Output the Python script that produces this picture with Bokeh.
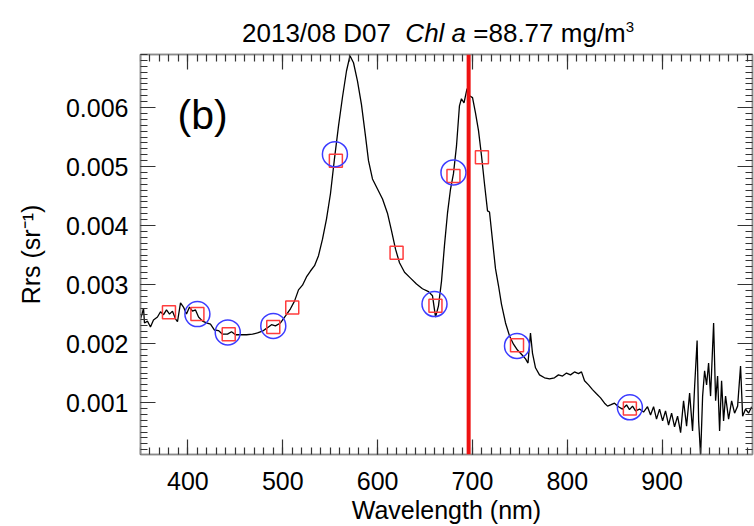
from bokeh.plotting import figure
from bokeh.models import (Range1d, FixedTicker, PrintfTickFormatter, LinearAxis,
                          CustomJSTickFormatter, Span, Label, Div)
from bokeh.layouts import column
from bokeh.embed import file_html
from bokeh.resources import INLINE

# ---- data ----
wavelength = [350, 351.6, 353.2, 354.2, 357.4, 360.5, 363.7, 367.9, 371.1, 374.3,
              377.4, 380.6, 383.7, 386.9, 389.0, 392.2, 395.3, 398.5, 401.7, 404.8,
              408.0, 411.2, 415.4, 419.6, 423.8, 428.0, 432.2, 436.5, 441.7, 446.0,
              450.2, 455.4, 461.8, 468.1, 473.4, 478.6, 483.9, 488.1, 492.3, 497.6,
              502.9, 508.1, 512.4, 516.6, 520.8, 525.0, 529.2, 533.5, 537.7, 541.9,
              546.1, 550.3, 554.5, 558.8, 563.0, 567.2, 570.9, 574.6, 578.8, 583.0,
              587.2, 590.4, 594.6, 599.9, 605.2, 610.4, 614.7, 618.9, 623.1, 628.4,
              634.7, 641.0, 647.3, 653.7, 657.9, 661.1, 664.2, 667.4, 670.5, 673.7,
              676.9, 680.0, 683.2, 686.3, 688.4, 691.1, 694.3, 696.9, 700.1, 703.2,
              706.4, 709.6, 712.7, 715.9, 718.0, 721.2, 724.3, 727.5, 730.6, 734.9,
              739.1, 743.3, 747.5, 751.7, 756.0, 758.6, 761.2, 763.3, 766.5, 770.7,
              776.0, 781.3, 786.5, 790.7, 795.0, 799.2, 803.4, 807.6, 811.8, 815.0,
              818.2, 822.4, 826.6, 830.8, 835.1, 839.3, 842.5, 845.6, 849.8, 854.0,
              858.2, 862.5, 865.6, 868.8, 872.0, 876.2, 880.4, 884.6, 887.8, 891.0,
              894.1, 897.3, 900.5, 903.6, 906.8, 910.0, 913.1, 916.3, 919.5, 922.6,
              925.8, 929.0, 932.1, 934.3, 936.9, 938.5, 940.6, 942.7, 944.8, 946.9,
              949.0, 951.1, 954.3, 956.4, 958.5, 960.6, 962.7, 964.8, 966.9, 970.1,
              973.3, 976.4, 979.6, 982.7, 984.9, 988.0, 991.2, 994.4]
rrs = [0.00242, 0.00250, 0.00260, 0.00235, 0.00238, 0.00228, 0.00240, 0.00245, 0.00254, 0.00249,
       0.00257, 0.00250, 0.00255, 0.00242, 0.00237, 0.00269, 0.00262, 0.00250, 0.00262, 0.00255,
       0.00257, 0.00245, 0.00238, 0.00235, 0.00233, 0.00223, 0.00222, 0.00216, 0.00216, 0.00220,
       0.00215, 0.00215, 0.00215, 0.00216, 0.00218, 0.00221, 0.00227, 0.00232, 0.00230, 0.00235,
       0.00247, 0.00259, 0.00272, 0.00291, 0.00299, 0.00313, 0.00323, 0.00332, 0.00349, 0.00377,
       0.00411, 0.00454, 0.00513, 0.00569, 0.00618, 0.00662, 0.00688, 0.00676, 0.00645, 0.00605,
       0.00552, 0.00510, 0.00479, 0.00462, 0.00445, 0.00421, 0.00391, 0.00360, 0.00337, 0.00321,
       0.00311, 0.00301, 0.00293, 0.00288, 0.00281, 0.00245, 0.00264, 0.00306, 0.00366, 0.00421,
       0.00462, 0.00488, 0.00535, 0.00603, 0.00615, 0.00608, 0.00632, 0.00620, 0.00617, 0.00591,
       0.00561, 0.00518, 0.00471, 0.00425, 0.00423, 0.00374, 0.00327, 0.00298, 0.00267, 0.00235,
       0.00213, 0.00199, 0.00189, 0.00182, 0.00174, 0.00167, 0.00218, 0.00184, 0.00159, 0.00147,
       0.00142, 0.00140, 0.00142, 0.00147, 0.00145, 0.00150, 0.00147, 0.00152, 0.00149, 0.00152,
       0.00137, 0.00130, 0.00122, 0.00115, 0.00108, 0.00099, 0.00094, 0.00096, 0.00099, 0.00093,
       0.00089, 0.00096, 0.00088, 0.00094, 0.00086, 0.00089, 0.00084, 0.00093, 0.00079, 0.00093,
       0.00072, 0.00089, 0.00069, 0.00086, 0.00062, 0.00082, 0.00059, 0.00077, 0.00049, 0.00103,
       0.00060, 0.00116, 0.00052, 0.00128, 0.00205, 0.00069, 0.00010, 0.00111, 0.00154, 0.00130,
       0.00167, 0.00111, 0.00235, 0.00103, 0.00145, 0.00052, 0.00137, 0.00069, 0.00111, 0.00072,
       0.00103, 0.00082, 0.00094, 0.00162, 0.00077, 0.00089, 0.00082, 0.00093]

circle_wl = [410, 442, 490, 555, 660, 680, 747, 866]
circle_rrs = [0.00250, 0.00219, 0.00230, 0.00521, 0.00267, 0.00490, 0.00196, 0.00092]

square_wl = [380, 410, 443, 490, 510, 556, 620, 661, 680, 710, 747, 866]
square_rrs = [0.00253, 0.00250, 0.00216, 0.00228, 0.00261, 0.00510, 0.00354, 0.00264,
              0.00484, 0.00516, 0.00197, 0.00090]

red_line_wl = 696

x_major = [400, 500, 600, 700, 800, 900]
x_minor = list(range(350, 1000, 10))
y_major = [0.001, 0.002, 0.003, 0.004, 0.005, 0.006]
y_minor = [i / 10000 for i in range(1, 70)]

title_part1 = "2013/08 D07"
title_part2 = "Chl a"
title_part3 = "=88.77 mg/m"
title_sup = "3"
panel_tag = "(b)"

# ---- layout ----
X0, X1 = 350, 995.3
Y0, Y1 = 0.00012, 0.0069
W = 754
TITLE_H = 48
H = 526 - TITLE_H
BL, BR, BT, BB = 140, 2, 6, 72
FW, FH = W - BL - BR, H - BT - BB

def px_x(px):
    return X0 + (px - BL) / FW * (X1 - X0)

def px_y(py):  # py measured in the figure's own canvas
    return Y1 - (py - BT) / FH * (Y1 - Y0)

FONT = "Liberation Sans"

p = figure(width=W, height=H, output_backend="svg", toolbar_location=None,
           x_range=Range1d(X0, X1), y_range=Range1d(Y0, Y1),
           min_border_left=BL, min_border_right=BR, min_border_top=BT,
           min_border_bottom=BB, background_fill_color="white",
           border_fill_color="white", margin=0)
p.grid.visible = False
p.outline_line_color = "#8a8a8a"
p.outline_line_width = 1.5

xt = FixedTicker(ticks=x_major, minor_ticks=x_minor)
yt = FixedTicker(ticks=y_major, minor_ticks=y_minor)

def style_axis(ax, ticker):
    ax.ticker = ticker
    ax.axis_line_color = "#8a8a8a"
    ax.axis_line_width = 1.5
    ax.major_tick_in = 15
    ax.major_tick_out = 0
    ax.minor_tick_in = 7
    ax.minor_tick_out = 0
    ax.major_tick_line_color = "#333333"
    ax.minor_tick_line_color = "#333333"
    ax.major_tick_line_width = 1.2
    ax.minor_tick_line_width = 1.2
    ax.major_label_text_font = FONT
    ax.major_label_text_font_size = "25px"
    ax.major_label_text_color = "black"
    ax.axis_label_text_font = FONT
    ax.axis_label_text_font_size = "25px"
    ax.axis_label_text_font_style = "normal"
    ax.axis_label_text_color = "black"

xa = p.xaxis[0]
style_axis(xa, xt)
xa.axis_label = "Wavelength (nm)"
xa.major_label_standoff = 17
xa.axis_label_standoff = 3

ya = p.yaxis[0]
style_axis(ya, yt)
ya.axis_label = "Rrs (sr\u207b\u00b9)"
ya.formatter = PrintfTickFormatter(format="%.3f")
ya.major_label_standoff = 12
ya.axis_label_standoff = 18

blank = CustomJSTickFormatter(code="return ''")
top = LinearAxis(formatter=blank)
style_axis(top, xt)
top.major_label_standoff = 0
right = LinearAxis(formatter=blank)
style_axis(right, yt)
right.major_label_standoff = 0
p.add_layout(top, "above")
p.add_layout(right, "right")

# ---- marks ----
p.line(wavelength, rrs, line_color="black", line_width=1.3)
p.add_layout(Span(location=red_line_wl, dimension="height",
                  line_color="#ee1111", line_width=4))
p.scatter(square_wl, square_rrs, marker="square", size=13, fill_color=None,
          line_color="#ff3c3c", line_width=1.5)
p.scatter(circle_wl, circle_rrs, marker="circle", size=25, fill_color=None,
          line_color="#3c3cff", line_width=1.5)

p.add_layout(Label(x=px_x(177), y=px_y(114 - TITLE_H), text=panel_tag, text_font=FONT,
                   text_font_size="41px", text_color="black",
                   text_baseline="alphabetic", text_align="left"))

# ---- title (HTML so that "Chl a" can be italic) ----
title_html = (
    f'<div style="font-family:\'{FONT}\';font-size:26px;line-height:30px;'
    f'white-space:nowrap;padding-left:242px;padding-top:12px;color:black;">'
    f'{title_part1}&nbsp; <i>{title_part2}</i> {title_part3}'
    f'<sup style="font-size:15px;">{title_sup}</sup></div>'
)
title_div = Div(text=title_html, width=W, height=TITLE_H, margin=0)

layout = column(title_div, p, spacing=0, margin=0)

open("out.html", "w").write(file_html(layout, INLINE))
